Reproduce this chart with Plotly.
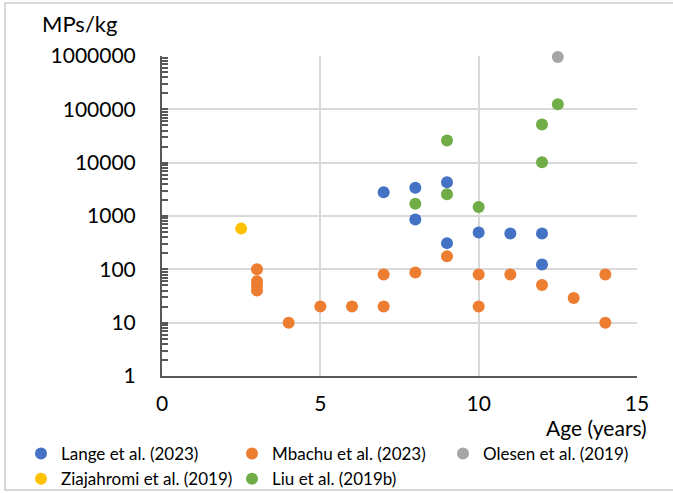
import plotly.graph_objects as go

# Data
lange_x = [7, 8, 9, 8, 9, 10, 11, 12, 12]
lange_y = [2800, 3400, 4300, 860, 310, 490, 470, 470, 123]

mbachu_x = [3, 3, 3, 3, 4, 5, 6, 7, 7, 8, 9, 10, 10, 11, 12, 13, 14, 14]
mbachu_y = [100, 60, 50, 40, 10, 20, 20, 20, 80, 87, 175, 80, 20, 80, 51, 29, 80, 10]

olesen_x = [12.5]
olesen_y = [960000]

ziaj_x = [2.5]
ziaj_y = [580]

liu_x = [9, 9, 8, 10, 12, 12, 12.5]
liu_y = [26000, 2570, 1700, 1480, 52000, 10200, 124000]

series = [
    ("Lange et al. (2023)", lange_x, lange_y, "#4472C4"),
    ("Mbachu et al. (2023)", mbachu_x, mbachu_y, "#ED7D31"),
    ("Olesen et al. (2019)", olesen_x, olesen_y, "#A5A5A5"),
    ("Ziajahromi et al. (2019)", ziaj_x, ziaj_y, "#FFC000"),
    ("Liu et al. (2019b)", liu_x, liu_y, "#70AD47"),
]

x_ticks = [0, 5, 10, 15]
y_ticks = [1, 10, 100, 1000, 10000, 100000, 1000000]

FONT = "Lato"
W, H = 673, 493
L, R, T, B = 162, 36, 56, 117
pw, ph = W - L - R, H - T - B

fig = go.Figure()
for name, xs, ys, col in series:
    fig.add_trace(go.Scatter(x=xs, y=ys, mode="markers", name=name,
                             marker=dict(color=col, size=12, line=dict(width=0)),
                             cliponaxis=False))

def px2paper_x(p):
    return (p - L) / pw

def px2paper_y(p):
    return (H - B - p) / ph

fig.update_layout(
    width=W, height=H,
    margin=dict(l=L, r=R, t=T, b=B, autoexpand=False),
    paper_bgcolor="white", plot_bgcolor="white",
    font=dict(family=FONT, color="#000000", size=20),
    showlegend=True,
    legend=dict(orientation="h", x=px2paper_x(21), xanchor="left",
                y=px2paper_y(436), yanchor="top",
                font=dict(size=17, family=FONT, color="#000000"),
                entrywidth=166, entrywidthmode="pixels",
                itemwidth=30, tracegroupgap=0, bgcolor="rgba(0,0,0,0)"),
    xaxis=dict(range=[0, 15], tickvals=x_ticks, ticktext=[str(v) for v in x_ticks],
               showgrid=True, gridcolor="#D9D9D9", gridwidth=2,
               showline=True, linecolor="#595959", linewidth=2,
               ticks="", ticklabelstandoff=8, zeroline=False,
               tickfont=dict(size=21, family=FONT, color="#000000")),
    yaxis=dict(type="log", range=[0, 6], tickvals=y_ticks,
               ticktext=[str(v) for v in y_ticks],
               showgrid=True, gridcolor="#D9D9D9", gridwidth=2,
               showline=True, linecolor="#595959", linewidth=2,
               ticks="inside", ticklen=6, tickcolor="#595959", tickwidth=1.5,
               minor=dict(ticks="inside", ticklen=6, tickcolor="#595959", tickwidth=1.5,
                          dtick="D1", showgrid=False),
               ticklabelstandoff=20, zeroline=False,
               tickfont=dict(size=21, family=FONT, color="#000000")),
    annotations=[
        dict(text="MPs/kg", xref="paper", yref="paper", x=px2paper_x(40), y=px2paper_y(24),
             xanchor="left", yanchor="middle", showarrow=False,
             font=dict(size=22, family=FONT, color="#000000")),
        dict(text="Age (years)", xref="paper", yref="paper", x=px2paper_x(649), y=px2paper_y(427),
             xanchor="right", yanchor="middle", showarrow=False,
             font=dict(size=21, family=FONT, color="#000000")),
    ],
    shapes=[
        dict(type="rect", xref="paper", yref="paper",
             x0=px2paper_x(5), x1=px2paper_x(690), y0=px2paper_y(490), y1=px2paper_y(3),
             line=dict(color="#D9D9D9", width=2), fillcolor="rgba(0,0,0,0)", layer="below"),
    ],
)

fig.write_html("out.html")
